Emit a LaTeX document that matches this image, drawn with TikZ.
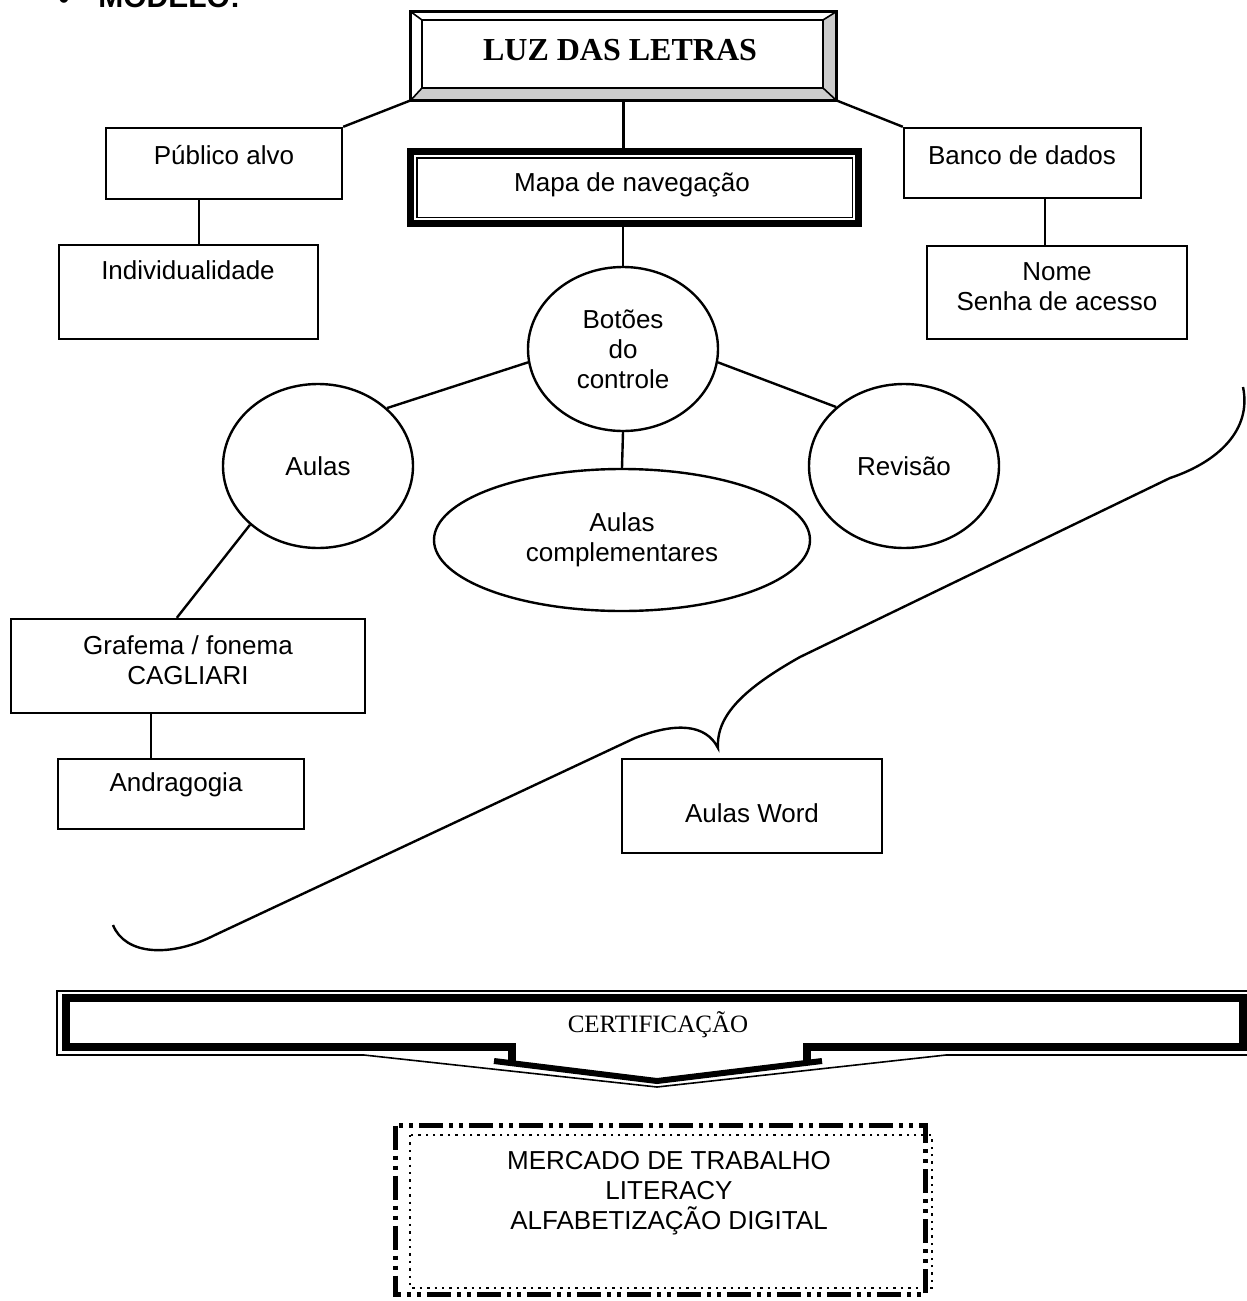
\documentclass[tikz,border=0pt]{standalone}
\usepackage{fontspec}
\setmainfont{Liberation Sans}
\newfontfamily\timesfont{Liberation Serif}
\usetikzlibrary{shapes.geometric,fit,calc}
\newcommand\bodyfs{\fontsize{13pt}{15pt}\selectfont}
\begin{document}
\begin{tikzpicture}[x=0.5pt,y=-0.5pt,
  box/.style={draw, line width=1.2pt, inner sep=0pt},
  oval/.style={draw, ellipse, line width=1.2pt, inner sep=0pt, align=center, font=\bodyfs},
  txt/.style={inner sep=0pt, align=center, font=\bodyfs},
  conn/.style={line width=1.2pt},
  bevel/.style={fill=gray!40},
]
\useasboundingbox (0,0) rectangle (1247,1301);
\fill[white] (0,0) rectangle (1247,1301);

% heading (cut at top)
\node[font=\fontsize{16pt}{18pt}\selectfont, anchor=base west, inner sep=0] (bullet) at (58,10) {•};
\node[font=\bfseries\fontsize{15pt}{17pt}\selectfont, anchor=base west, inner sep=0] (modelo) at (98,7) {MODELO:};

% title bevel box
\node[inner sep=0, fit={(411,12) (836,100)}] (title) {};
\fill[bevel] (title.south west) -- (title.south east) -- (823,88) -- (422,88) -- cycle;
\fill[bevel] (title.north east) -- (title.south east) -- (823,88) -- (823,20) -- cycle;
\draw[line width=1.2pt] (title.north west) rectangle (title.south east);
\draw[line width=1.2pt] (422,20) rectangle (823,88);
\draw[line width=0.8pt] (title.north west) -- (422,20) (title.north east) -- (823,20)
  (title.south west) -- (422,88) (title.south east) -- (823,88);
\node[font=\timesfont\bfseries\fontsize{16pt}{18pt}\selectfont, inner sep=0] (titletxt) at (620,50) {LUZ DAS LETRAS};

% Mapa de navegacao (thick-thin frame)
\node[inner sep=0, fit={(407,148) (862,227)}] (mapa) {};
\draw[line width=3.75pt] ([shift={(3.75,3.75)}]mapa.north west) rectangle ([shift={(-3.75,-3.75)}]mapa.south east);
\draw[line width=0.9pt] ([shift={(10,10)}]mapa.north west) rectangle ([shift={(-10,-10)}]mapa.south east);
\node[txt] (mapatxt) at (632,185) {Mapa de navegação};

% boxes
\node[box, fit={(106,128) (342,199)}] (pub) {};
\node[txt] (pubtxt) at (224,155) {Público alvo};
\node[box, fit={(59,245) (318,339)}] (ind) {};
\node[txt] (indtxt) at (188,270) {Individualidade};
\node[box, fit={(904,128) (1141,198)}] (banco) {};
\node[txt] (bancotxt) at (1022,155) {Banco de dados};
\node[box, fit={(927,246) (1187,339)}] (nome) {};
\node[txt] (nometxt) at (1057,287) {Nome\\Senha de acesso};
\node[box, fit={(11,619) (365,713)}] (graf) {};
\node[txt] (graftxt) at (188,660) {Grafema / fonema\\CAGLIARI};
\node[box, fit={(58,759) (304,829)}] (andr) {};
\node[txt] (andrtxt) at (176,785) {Andragogia};
\node[box, fit={(622,759) (882,853)}] (word) {};
\node[txt] (wordtxt) at (752,813) {Aulas Word};

% ellipses
\node[oval, minimum width=95pt, minimum height=82pt] (bot) at (623,349) {Botões\\do\\controle};
\node[oval, minimum width=95pt, minimum height=82pt] (aulas) at (318,466) {Aulas};
\node[oval, minimum width=95pt, minimum height=82pt] (rev) at (904,466) {Revisão};
\node[oval, minimum width=188pt, minimum height=71pt] (comp) at (622,540) {Aulas\\complementares};

% connectors
\draw[conn] (title.south west) -- (pub.north east);
\draw[conn] (title.south) -- (title.south |- mapa.north);
\draw[conn] (title.south east) -- (banco.north west);
\draw[conn] (pub.south west) ++(94,0) coordinate (pi) -- (pi |- ind.north);
\draw[conn] (banco.south west) ++(142,0) coordinate (bn) -- (bn |- nome.north);
\draw[conn] (bot.north |- mapa.south) -- (bot.north);
\draw[conn] (bot.188) -- (aulas.40);
\draw[conn] (bot.352) -- (rev.139);
\draw[conn] (bot.south) -- (comp.north);
\draw[conn] (aulas.south west) -- ($(graf.north west)+(167,0)$);
\draw[conn] (graf.south west) ++(141,0) coordinate (ga) -- (ga |- andr.north);

% brace
\draw[conn] (1243,387) .. controls (1252,430) and (1218,462) .. (1170,478)
  -- (800,657) .. controls (745,688) and (716,715) .. (718,748) coordinate (tip)
  .. controls (706,724) and (676,722) .. (635,738)
  -- (215,935) .. controls (170,958) and (125,955) .. (113,925);

% certificacao
\draw[line width=0.8pt] (1260,991) -- (57,991) -- (57,1055) -- (364,1055) -- (657,1087) -- (946,1055) -- (1260,1055);
\draw[line width=4pt] (512,1047) -- (66,1047) -- (66,998) -- (1243,998) -- (1243,1047) -- (807,1047);
\draw[line width=4pt] (512,1043) -- (512,1064);
\draw[line width=4pt] (807,1043) -- (807,1064);
\draw[line width=3pt] (494,1061) -- (657,1081) -- (822,1061);
\node[font=\timesfont\fontsize{12.5pt}{14pt}\selectfont, inner sep=0] (cert) at (658,1025) {CERTIFICAÇÃO};

% mercado
\node[inner sep=0, fit={(396,1126) (925,1294)}] (merc) {};
\draw[line width=2.2pt, dash pattern=on 12pt off 3pt on 2pt off 3pt on 2pt off 3pt] (merc.north west) rectangle (merc.south east);
\draw[line width=1.2pt, dash pattern=on 1.2pt off 2.5pt] (410,1135) rectangle (932,1288);
\node[txt] (merctxt) at (669,1193) {MERCADO DE TRABALHO\\LITERACY\\ALFABETIZAÇÃO DIGITAL};
\end{tikzpicture}
\end{document}
